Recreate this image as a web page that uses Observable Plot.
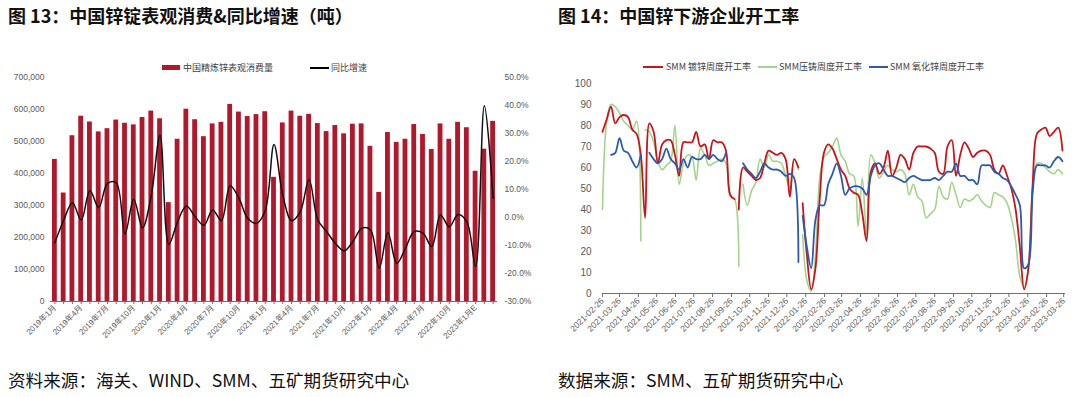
<!DOCTYPE html>
<html><head><meta charset="utf-8">
<script src="https://cdn.jsdelivr.net/npm/d3@7"></script>
<script src="https://cdn.jsdelivr.net/npm/@observablehq/plot@0.6"></script>
<style>
body{margin:0;width:1080px;height:397px;position:relative;background:#fff;overflow:hidden;font-family:"Noto Sans CJK SC",sans-serif;}
.title{position:absolute;top:6px;font-size:18px;line-height:1;font-weight:bold;color:#111;white-space:nowrap;}
.src{position:absolute;top:371px;font-size:17.6px;line-height:1;color:#111;white-space:nowrap;}
.panel{position:absolute;top:70px;}
.lg{position:absolute;font-size:9px;line-height:1;color:#404040;white-space:nowrap;}
.sw{position:absolute;}
</style></head><body>
<div class="title" style="left:8px">图 13：中国锌锭表观消费&amp;同比增速（吨）</div>
<div class="title" style="left:558px">图 14：中国锌下游企业开工率</div>

<div class="sw" style="left:162px;top:65px;width:18px;height:5px;background:#B0182B"></div>
<div class="lg" style="left:183px;top:63px">中国精炼锌表观消费量</div>
<div class="sw" style="left:310px;top:67px;width:19px;height:1.6px;background:#000"></div>
<div class="lg" style="left:331px;top:63px">同比增速</div>

<div class="sw" style="left:643px;top:66px;width:20px;height:2px;background:#C5161D"></div>
<div class="lg" style="left:666px;top:62px">SMM 镀锌周度开工率</div>
<div class="sw" style="left:758px;top:66px;width:19px;height:2px;background:#A6D38C"></div>
<div class="lg" style="left:779px;top:62px">SMM压铸周度开工率</div>
<div class="sw" style="left:869px;top:66px;width:19px;height:2px;background:#2E5AAC"></div>
<div class="lg" style="left:890px;top:62px">SMM 氧化锌周度开工率</div>

<div id="left" class="panel" style="left:0px"></div>
<div id="right" class="panel" style="left:540px"></div>

<div class="src" style="left:8px">资料来源：海关、WIND、SMM、五矿期货研究中心</div>
<div class="src" style="left:558px">数据来源：SMM、五矿期货研究中心</div>

<script>
// ---------- Left chart data ----------
const months = [
 "2019年1月","2019年2月","2019年3月","2019年4月","2019年5月","2019年6月","2019年7月","2019年8月","2019年9月","2019年10月","2019年11月","2019年12月",
 "2020年1月","2020年2月","2020年3月","2020年4月","2020年5月","2020年6月","2020年7月","2020年8月","2020年9月","2020年10月","2020年11月","2020年12月",
 "2021年1月","2021年2月","2021年3月","2021年4月","2021年5月","2021年6月","2021年7月","2021年8月","2021年9月","2021年10月","2021年11月","2021年12月",
 "2022年1月","2022年2月","2022年3月","2022年4月","2022年5月","2022年6月","2022年7月","2022年8月","2022年9月","2022年10月","2022年11月","2022年12月",
 "2023年1月E","2023年2月E","2023年3月E"];
const consumption = [
 444000,339000,518000,579000,561000,530000,540000,567000,557000,552000,575000,595000,
 571000,309000,507000,601000,568000,515000,555000,560000,616000,592000,578000,584000,
 593000,388000,558000,595000,579000,585000,556000,531000,550000,524000,554000,555000,
 485000,341000,528000,497000,507000,553000,522000,475000,555000,507000,560000,543000,
 407000,476000,563000];
const yoyGrowth = [
 -9.0,-1.0,5.3,-0.9,9.6,3.5,12.2,12.4,-5.9,6.5,-3.7,8.0,
 29.4,-9.6,-1.5,4.1,0.3,-2.8,2.7,-1.1,11.3,6.9,-0.3,-2.1,
 2.5,26.1,8.0,-1.1,2.1,13.6,-0.9,-5.0,-9.2,-11.9,-8.6,-3.9,
 -4.4,-18.1,-5.4,-16.4,-11.0,-5.0,-5.6,-10.4,0.9,-3.3,1.1,-1.5,
 -17.5,39.9,6.9];
const volumeTicks = [0,100000,200000,300000,400000,500000,600000,700000];
const growthTicks = [-30,-20,-10,0,10,20,30,40,50];
const labelledMonths = ["2019年1月","2019年4月","2019年7月","2019年10月","2020年1月","2020年4月","2020年7月","2020年10月",
 "2021年1月","2021年4月","2021年7月","2021年10月","2022年1月","2022年4月","2022年7月","2022年10月","2023年1月E"];

// ---------- Right chart data (weekly, from 2021-02-26) ----------
const firstWeek = "2021-02-26";
const galvanizing = [
 77,83,89,81,84,85,84,78,76,66,36,81,77,62,71,73,73,66,56,72,72,72,77,70,71,64,73,72,72,68,
 47,45,40,60,58,56,54,55,62,68,67,66,67,64,46,64,60,43,18,2,12,45,67,71,69,64,59,56,50,48,
 47,38,25,58,62,57,60,68,56,60,66,64,59,67,70,70,70,69,67,58,57,70,73,56,66,72,69,65,67,68,
 68,66,59,57,61,56,50,40,22,2,12,52,76,78,79,75,77,79,68];
const dieCasting = [
 40,82,90,89,86,82,80,78,82,25,78,77,72,63,59,61,63,80,52,62,66,65,54,69,66,61,62,63,64,62,
 46,45,13,52,42,49,53,64,60,66,63,63,62,56,50,64,59,28,6,1,18,55,65,67,70,74,66,63,57,56,
 32,55,28,66,62,55,58,61,59,58,59,57,47,52,46,44,36,38,40,51,46,45,53,47,41,45,44,45,47,44,
 42,41,48,47,46,43,36,25,8,3,12,50,62,62,60,58,57,59,57];
const zincOxide = [
 null,null,66,67,74,68,67,63,60,66,null,67,64,62,64,69,64,62,59,64,60,65,64,64,66,64,66,64,63,67,
 null,null,null,62,59,57,55,58,62,60,59,59,58,56,57,55,15,37,22,12,35,42,42,52,57,62,56,47,50,51,
 51,50,47,56,61,62,59,56,56,55,54,53,55,56,55,54,54,54,55,54,56,58,58,62,56,56,54,54,52,61,
 61,61,58,57,55,54,51,47,42,12,14,48,61,61,61,60,63,65,63];
// week index after which the source line is broken (missing report)
const breaksGalvanizing = [31,46];
const breaksDieCasting = [9,32,46];
const breaksZincOxide = [46];
const seriesNames = ["SMM 镀锌周度开工率","SMM压铸周度开工率","SMM 氧化锌周度开工率"];
const seriesColors = ["#C5161D","#A6D38C","#2E5AAC"];
const rateTicks = [0,10,20,30,40,50,60,70,80,90,100];
const dateTickLabels = ["2021-02-26","2021-03-26","2021-04-26","2021-05-26","2021-06-26","2021-07-26","2021-08-26",
 "2021-09-26","2021-10-26","2021-11-26","2021-12-26","2022-01-26","2022-02-26","2022-03-26","2022-04-26","2022-05-26",
 "2022-06-26","2022-07-26","2022-08-26","2022-09-26","2022-10-26","2022-11-26","2022-12-26","2023-01-26","2023-02-26","2023-03-26"];

// ---------- Left chart ----------
const volMax = 700000, pMin = -30, pMax = 50;
const toVol = p => (p - pMin) / (pMax - pMin) * volMax;
const leftRows = months.map((m, i) => ({month: m, value: consumption[i], growth: yoyGrowth[i]}));
const fontStack = "'Liberation Sans','Noto Sans CJK SC',sans-serif";

const left = Plot.plot({
  width: 540, height: 280,
  marginTop: 7, marginBottom: 49, marginLeft: 50, marginRight: 43,
  style: {fontFamily: fontStack, fontSize: "8.5px", color: "#595959", background: "transparent"},
  x: {type: "band", domain: months, paddingInner: 0.45, paddingOuter: 0.225},
  y: {domain: [0, volMax]},
  marks: [
    Plot.barY(leftRows, {x: "month", y: "value", fill: "#B0182B"}),
    Plot.ruleY([0], {stroke: "#6f6f6f", strokeWidth: 1}),
    Plot.line(leftRows, {x: "month", y: d => toVol(d.growth), stroke: "#111", strokeWidth: 1.5, curve: "catmull-rom"}),
    Plot.axisY({anchor: "left", ticks: volumeTicks, tickSize: 0, tickPadding: 6, label: null,
      tickFormat: d => d === 0 ? "0" : d3.format(",")(d)}),
    Plot.axisY({anchor: "right", ticks: growthTicks.map(toVol), tickSize: 0, tickPadding: 7, label: null,
      tickFormat: v => (Math.round((v / volMax * (pMax - pMin) + pMin) * 10) / 10).toFixed(1) + "%"}),
    Plot.axisX({ticks: months, tickSize: 3, tickFormat: () => "", label: null, stroke: "#6f6f6f"}),
    Plot.axisX({ticks: labelledMonths, tickSize: 0, tickPadding: 5, tickRotate: -45, fontSize: 8, label: null})
  ]
});
document.getElementById("left").append(left);

// ---------- Right chart ----------
const start = d3.utcParse("%Y-%m-%d")(firstWeek);
function buildRows(values, breaks, name) {
  const rows = [];
  let seg = 0;
  values.forEach((v, i) => {
    if (v == null) { seg++; return; }
    rows.push({date: d3.utcDay.offset(start, 7 * i), value: v, series: name, seg: name + "-" + seg});
    if (breaks.includes(i)) seg++;
  });
  return rows;
}
const redRows = buildRows(galvanizing, breaksGalvanizing, seriesNames[0]);
const greenRows = buildRows(dieCasting, breaksDieCasting, seriesNames[1]);
const blueRows = buildRows(zincOxide, breaksZincOxide, seriesNames[2]);
const tickDates = dateTickLabels.map(d3.utcParse("%Y-%m-%d"));

const right = Plot.plot({
  width: 540, height: 280,
  marginTop: 13, marginBottom: 57, marginLeft: 62, marginRight: 15,
  style: {fontFamily: fontStack, fontSize: "10px", color: "#595959", background: "transparent"},
  x: {type: "utc", domain: [start, d3.utcParse("%Y-%m-%d")("2023-03-29")]},
  y: {domain: [0, 100]},
  color: {domain: seriesNames, range: seriesColors},
  marks: [
    Plot.ruleY([0], {stroke: "#6f6f6f", strokeWidth: 1}),
    Plot.line(greenRows, {x: "date", y: "value", z: "seg", stroke: "series", strokeWidth: 1.6, curve: "catmull-rom"}),
    Plot.line(redRows, {x: "date", y: "value", z: "seg", stroke: "series", strokeWidth: 1.8, curve: "catmull-rom"}),
    Plot.line(blueRows, {x: "date", y: "value", z: "seg", stroke: "series", strokeWidth: 1.8, curve: "catmull-rom"}),
    Plot.axisY({ticks: rateTicks, tickSize: 0, tickPadding: 11, label: null}),
    Plot.axisX({ticks: tickDates, tickFormat: d3.utcFormat("%Y-%m-%d"), tickRotate: -45, tickSize: 4,
      tickPadding: 2, fontSize: 8.5, label: null, stroke: "#6f6f6f"})
  ]
});
document.getElementById("right").append(right);
</script>
</body></html>
